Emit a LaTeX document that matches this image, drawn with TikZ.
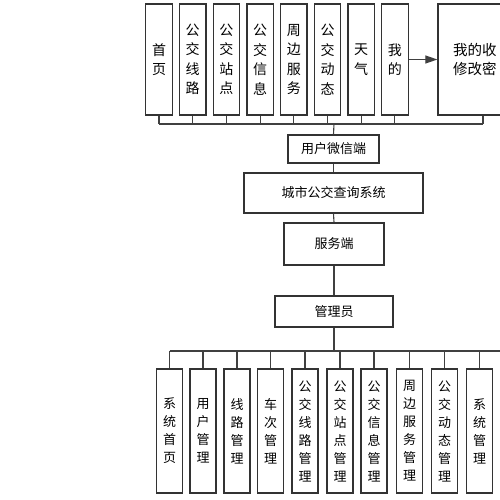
\documentclass[tikz,border=0pt]{standalone}
\usepackage{fontspec}
\newfontfamily\cjk{Noto Sans CJK SC}
\usetikzlibrary{arrows.meta}
\begin{document}
\begin{tikzpicture}[x=1pt,y=-1pt,
  ln/.style={draw=black!80,line width=1.3pt},
  topbox/.style={ln,minimum width=26.5pt,minimum height=111pt,inner sep=0pt,align=center,font=\cjk\fontsize{14pt}{19.5pt}\selectfont},
  botbox/.style={ln,minimum width=26pt,minimum height=124pt,inner sep=0pt,align=center,font=\cjk\fontsize{13pt}{18pt}\selectfont},
  midbox/.style={ln,inner sep=0pt,align=center,font=\cjk\fontsize{13pt}{16pt}\selectfont},
  wire/.style={draw=black!75,line width=1.1pt}]
\useasboundingbox (0,0) rectangle (500,500);
\fill[white] (0,0) rectangle (500,500);
\clip (0,0) rectangle (500,500);
% top row
\node[topbox] (t1) at (159,59.5) {首\\页};
\node[topbox] (t2) at (192.7,59.5) {公\\交\\线\\路};
\node[topbox] (t3) at (226.4,59.5) {公\\交\\站\\点};
\node[topbox] (t4) at (260.1,59.5) {公\\交\\信\\息};
\node[topbox] (t5) at (293.8,59.5) {周\\边\\服\\务};
\node[topbox] (t6) at (327.5,59.5) {公\\交\\动\\态};
\node[topbox] (t7) at (361.2,59.5) {天\\气};
\node[topbox] (t8) at (394.9,59.5) {我\\的};
\node[ln,minimum width=90pt,minimum height=111pt,inner sep=0pt] (big) at (483,59.5) {};
\node[anchor=west,inner sep=0pt,align=left,font=\cjk\fontsize{14.5pt}{19pt}\selectfont] (bigtext) at (453,59.5) {我的收\\修改密};
\draw[wire,-{Triangle[length=12pt,width=8pt]}] (t8.east) -- (big.west);
% top bus
\coordinate (tb) at (334,124);
\foreach \i in {1,...,8} {\draw[wire] (t\i.south) -- (t\i.south |- tb);}
\draw[wire] (big.south) -- (big.south |- tb);
\draw[wire] (t1.south |- tb) -- (big.south |- tb);
% middle chain
\node[midbox,minimum width=91pt,minimum height=28pt] (u) at (333.5,149) {用户微信端};
\node[midbox,minimum width=179pt,minimum height=40pt] (s) at (333.5,193) {城市公交查询系统};
\node[midbox,minimum width=100pt,minimum height=42pt] (f) at (334,244) {服务端};
\node[midbox,minimum width=118pt,minimum height=31pt] (m) at (334,311.5) {管理员};
\draw[wire] (tb) -- (u.north);
\draw[wire] (u.south) -- (s.north);
\draw[wire] (s.south) -- (f.north);
\draw[wire] (f.south) -- (m.north);
% bottom row
\node[botbox] (b1) at (169.5,431) {系\\统\\首\\页};
\node[botbox] (b2) at (203,431) {用\\户\\管\\理};
\node[botbox] (b3) at (237,431) {线\\路\\管\\理};
\node[botbox] (b4) at (270.5,431) {车\\次\\管\\理};
\node[botbox] (b5) at (305,431) {公\\交\\线\\路\\管\\理};
\node[botbox] (b6) at (340,431) {公\\交\\站\\点\\管\\理};
\node[botbox] (b7) at (374,431) {公\\交\\信\\息\\管\\理};
\node[botbox] (b8) at (409.5,431) {周\\边\\服\\务\\管\\理};
\node[botbox] (b9) at (444.5,431) {公\\交\\动\\态\\管\\理};
\node[botbox] (b10) at (479.5,431) {系\\统\\管\\理};
\coordinate (bb) at (334,351);
\coordinate (bend) at (510,351);
\draw[wire] (m.south) -- (bb);
\foreach \i in {1,...,10} {\draw[wire] (b\i.north) -- (b\i.north |- bb);}
\draw[wire] (b1.north |- bb) -- (bend);
\end{tikzpicture}
\end{document}
